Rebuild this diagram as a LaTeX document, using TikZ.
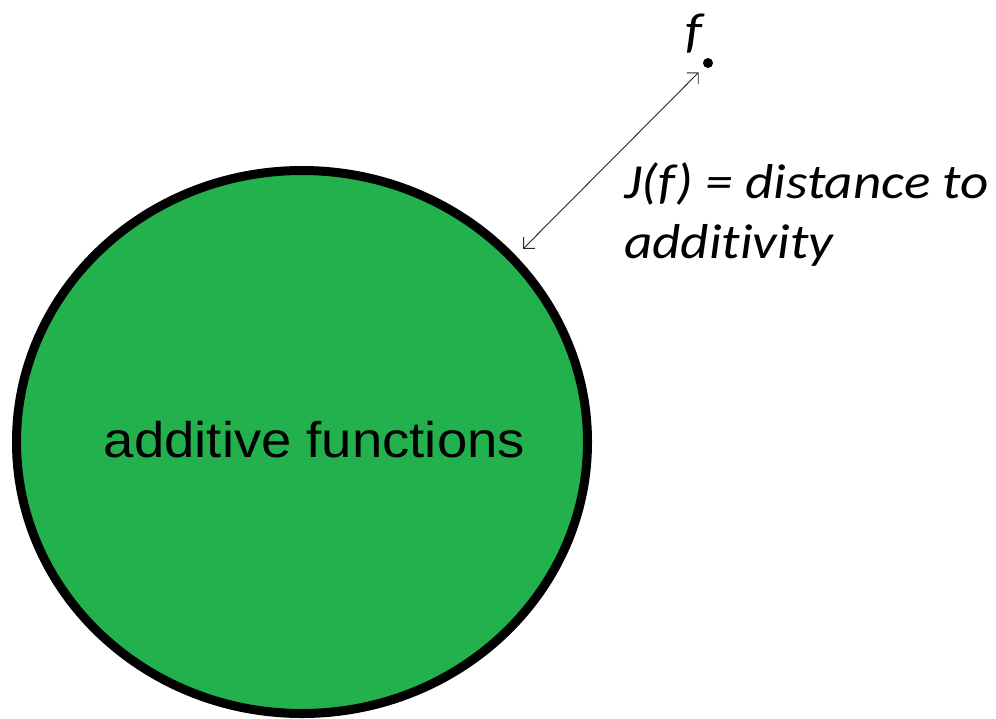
\documentclass[tikz,border=0pt]{standalone}
\usepackage{fontspec}
\setmainfont{Liberation Sans}
\newfontfamily\calib[Ligatures=NoCommon]{Carlito}
\usetikzlibrary{positioning,shapes.geometric,arrows.meta}
\definecolor{paintgreen}{RGB}{34,177,76}

\begin{document}
\begin{tikzpicture}[x=1pt,y=-1pt,
        blob/.style={ellipse,draw=black,fill=paintgreen,line width=9pt,
            minimum width=571pt,minimum height=543pt,inner sep=0pt},
        lbl/.style={font=\calib\itshape\fontsize{49}{60}\selectfont,
            inner sep=0pt,xscale=1.125,transform shape},
        gap/.style={{Straight Barb[length=8pt,width=16pt]}-{Straight Barb[length=8pt,width=16pt]},
            line width=0.9pt,draw=black!85}]
        \useasboundingbox (0,0) rectangle (996,718);
        \node[blob] (add) at (302,442) {};
        \node[font=\fontsize{50}{60}\selectfont,inner sep=0pt,xscale=1.09,
            transform shape,anchor=base] (addtxt) at (314.5,457) {additive functions};
        \node[circle,fill=black,inner sep=0pt,minimum size=10pt] (fdot) at (708,63) {};
        \node[lbl] (fname) at (694,34) {f};
        \draw[gap,shorten <=8pt,shorten >=10pt] (fdot) -- (add.41.6);
        \node[lbl,align=left,anchor=base west] (jtxt) at (624,258) {J(f) = distance to\\additivity};
    \end{tikzpicture}
\end{document}
